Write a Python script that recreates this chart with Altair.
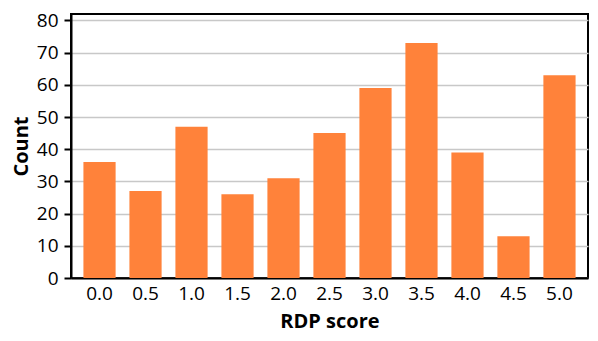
import altair as alt
import pandas as pd

scores = ["0.0", "0.5", "1.0", "1.5", "2.0", "2.5", "3.0", "3.5", "4.0", "4.5", "5.0"]
counts = [36, 27, 47, 26, 31, 45, 59, 73, 39, 13, 63]

df = pd.DataFrame({"score": scores, "count": counts})

FONT = "Open Sans"

chart = alt.Chart(df).mark_bar(color="#FF823A").encode(
    x=alt.X("score:N", sort=scores, title="RDP score",
            scale=alt.Scale(paddingInner=0.3, paddingOuter=0.27),
            axis=alt.Axis(labelAngle=0, ticks=False, labelPadding=6,
                          labelFontSize=19, titleFontSize=20, titleFontWeight="bold",
                          titlePadding=8, domainColor="black", domainWidth=2,
                          labelColor="black", titleColor="black", grid=False,
                          labelFont=FONT, titleFont=FONT)),
    y=alt.Y("count:Q", title="Count",
            scale=alt.Scale(domain=[0, 82], nice=False),
            axis=alt.Axis(values=[0, 10, 20, 30, 40, 50, 60, 70, 80], tickSize=7,
                          tickColor="black", tickWidth=2, labelPadding=6,
                          labelFontSize=19, titleFontSize=20, titleFontWeight="bold",
                          titlePadding=5, domainColor="black", domainWidth=2,
                          labelColor="black", titleColor="black",
                          gridColor="#c8c8c8", gridWidth=1.5,
                          labelFont=FONT, titleFont=FONT)),
).properties(
    width=582, height=325,
    padding={"left": 3, "top": 4, "right": 2, "bottom": 2},
    autosize=alt.AutoSizeParams(type="fit", contains="padding")
).configure_view(
    stroke="black", strokeWidth=2
)

chart.save("out.html", embed_options={"renderer": "svg", "actions": False})
